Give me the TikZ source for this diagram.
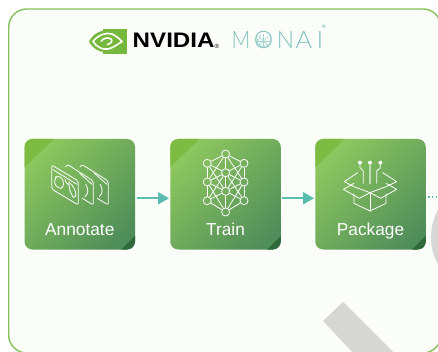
\documentclass[tikz,border=0pt]{standalone}
\usepackage{fontspec}
\setmainfont{Liberation Sans}
\newfontfamily\monaifont{Lato Light}
\usetikzlibrary{arrows.meta,calc}
\definecolor{framegreen}{HTML}{84C25A}
\definecolor{paper}{HTML}{FBFDF8}
\definecolor{greyband}{HTML}{D6D7D5}
\definecolor{flowteal}{HTML}{5BBDB0}
\definecolor{monaiteal}{HTML}{7FC0C0}
\definecolor{nvgreen}{HTML}{76B83C}
\definecolor{boxlight}{HTML}{8CC85A}
\definecolor{boxdark}{HTML}{4A8A55}
\definecolor{cornerlight}{HTML}{7CBC42}
\definecolor{cornerdark}{HTML}{2E6A3C}
\tikzset{
  stagebox/.style={minimum width=110.5pt,minimum height=110.5pt,inner sep=0pt,rounded corners=8pt,
    path picture={
      \begin{scope}[sharp corners]
        \shade[top color=boxlight,bottom color=boxdark,shading angle=45] (-62,-62) rectangle (62,62);
        \foreach \d in {-112,-109.5,...,112}{\draw[white,opacity=.07,line width=.7pt] (\d-56,-56) -- ++(112,112);}
        \fill[cornerlight] (-56,-56) -- (-25.25,-56) -- (-56,-26.25) -- cycle;
        \fill[cornerdark] (56,56) -- (40.75,56) -- (56,40.75) -- cycle;
      \end{scope}
    }},
  stagelabel/.style={text=white,font=\fontsize{17.3}{20}\selectfont,inner sep=0pt,anchor=base},
  flow/.style={draw=flowteal,line width=1.6pt,-{Triangle[length=11pt,width=12pt]}},
  flowdots/.style={draw=flowteal,line width=1.5pt,dash pattern=on 1.6pt off 2.2pt},
  icon/.style={draw=white,line width=.8pt,line join=round,line cap=round},
  netdot/.style={circle,draw=white,line width=.8pt,minimum size=8pt,inner sep=0pt},
  monailetter/.style={text=monaiteal,inner sep=0pt,font=\monaifont\fontsize{24}{26}\selectfont},
}
\begin{document}
\begin{tikzpicture}[x=1pt,y=-1pt]
\useasboundingbox (0,0) rectangle (438,352);
\clip (0,0) rectangle (438,352);
% frame
\draw[framegreen,fill=paper,line width=1.4pt,rounded corners=18pt] (8.7,9) rectangle (441,353);
% grey shapes
\fill[greyband] (343,302) -- (323,321) -- (354,354) -- (395,354) -- cycle;
\fill[greyband] (440,206) .. controls (433,218) and (431,228) .. (431,238) .. controls (431,248) and (434,258) .. (440,268) -- cycle;

% logo
\fill[nvgreen] (103,29) rectangle (127,54);
\begin{scope}
  \clip (85,25) rectangle (103,58);
  \fill[nvgreen] (89,41.5) .. controls (94,33) and (100,31) .. (105,30.5) -- (105,52) .. controls (99,52) and (93,49) .. (89,41.5) -- cycle;
\end{scope}
\draw[white,line width=1.6pt] (93,41.5) .. controls (98,35) and (106,32) .. (112,34) .. controls (116,36) and (120,39) .. (122,41.5) .. controls (118,44) and (113,48) .. (108,49) .. controls (102,50) and (97,47) .. (93,41.5) -- cycle;
\draw[white,line width=1.6pt] (101,41.5) .. controls (103,38) and (108,37) .. (111,39) .. controls (113,41) and (111,44) .. (107,44.5);
\node[anchor=base west,inner sep=0pt,font=\bfseries\fontsize{21}{24}\selectfont,xscale=1.15] (nvidia) at (132.5,48) {NVIDIA};
\node[anchor=base west,inner sep=0pt,font=\fontsize{6}{7}\selectfont] (reg) at (214.5,48.5) {®};
\node[monailetter,anchor=base,xscale=.86] (monaiM) at (241,49) {M};
\node[monailetter,anchor=base,xscale=1.02] (monaiO) at (263.5,49) {O};
\node[monailetter,anchor=base,xscale=.95] (monaiN) at (285.5,49) {N};
\node[monailetter,anchor=base,xscale=1.05] (monaiA) at (304,49) {A};
\node[monailetter,anchor=base] (monaiI) at (320,49) {I};
\foreach \a in {0,45,...,135}{\draw[monaiteal!70,line width=.5pt] ($(263.5,41)+(\a:7)$) -- ($(263.5,41)+(\a+180:7)$);}
\foreach \a in {22.5,67.5,...,157.5}{\draw[monaiteal!70,line width=.5pt] ($(263.5,41)+(\a:7)$) -- ($(263.5,41)+(\a+90:7)$);}
\node[text=monaiteal,inner sep=0pt,font=\fontsize{9}{9}\selectfont] (monaiplus) at (324,26.5) {+};

% stages
\node[stagebox] (annotate) at (79.75,194.25) {};
\node[stagebox] (train) at (225.5,194.25) {};
\node[stagebox] (package) at (370.5,194.25) {};
\node[stagelabel] (annotatetext) at (79.75,235.5) {Annotate};
\node[stagelabel] (traintext) at (225.5,235.5) {Train};
\node[stagelabel] (packagetext) at (370.5,235.5) {Package};

% connectors
\coordinate (a1) at ($(annotate.east)+(1.5,4)$);
\coordinate (t1) at ($(train.west)+(-1,4)$);
\coordinate (t2) at ($(train.east)+(1.5,4)$);
\coordinate (p1) at ($(package.west)+(-1,4)$);
\coordinate (p2) at ($(package.east)+(2,3)$);
\coordinate (offpage) at (441,197.25);
\draw[flow] (a1) -- (t1);
\draw[flow] (t2) -- (p1);
\draw[flowdots] (p2) -- (offpage);

% annotate icon
\begin{scope}[shift={(45,155)},x=.3333pt,y=-.3333pt,rounded corners=2pt]
  \draw[icon] (20,30) -- (100,78) -- (100,150) -- (20,102) -- cycle;
  \draw[icon] (24,44) -- (96,88);
  \draw[icon] (62,36) -- (67,28) -- (145,78) -- (145,150) -- (112,130);
  \draw[icon] (105,36) -- (110,28) -- (190,78) -- (190,150) -- (157,130);
  \draw[icon] (104,55) -- (141,88);
  \draw[icon] (148,55) -- (186,88);
  \draw[icon] (33,70) .. controls (40,62) and (52,68) .. (55,82) .. controls (57,95) and (48,102) .. (38,96) .. controls (30,90) and (28,78) .. (33,70) -- cycle;
  \draw[icon] (72,86) .. controls (82,88) and (94,110) .. (92,128) .. controls (84,128) and (72,105) .. (72,86) -- cycle;
  \draw[icon] (60,72) .. controls (62,82) and (66,88) .. (72,90);
  \draw[icon] (122,88) .. controls (130,100) and (132,115) .. (120,125);
  \draw[icon] (165,88) .. controls (173,100) and (175,115) .. (163,125);
\end{scope}

% train icon
\begin{scope}[shift={(225.6,183)}]
  \foreach \n/\px/\py in {nt/0/-29, nl/-18.4/-19.7, nr/18.4/-19.7, nc/0/-10.3, ml/-18.4/-1, mr/18.4/-1, mc/0/8.3, bl/-18.4/17.7, br/18.4/17.7, nb/0/29}
    \node[netdot] (\n) at (\px,\py) {};
  \foreach \u/\v in {nt/nl,nt/nr,nt/nc,nt/ml,nt/mr,nl/nc,nr/nc,nl/ml,nr/mr,nl/mc,nr/mc,nc/ml,nc/mr,nc/mc,nc/bl,nc/br,ml/mc,mr/mc,ml/bl,mr/br,mc/bl,mc/br,mc/nb,bl/nb,br/nb,ml/nb,mr/nb}
    \draw[icon] (\u) -- (\v);
\end{scope}

% package icon
\begin{scope}[shift={(280,130)},x=.3333pt,y=-.3333pt]
  \foreach \n/\px in {pina/240,pinb/270,pinc/301}
    \node[circle,fill=white,minimum size=4pt,inner sep=0pt] (\n) at (\px,98) {};
  \draw[icon] (pina) -- (240,113) -- (250,123) -- (250,160);
  \draw[icon] (pinc) -- (301,113) -- (290,123) -- (290,160);
  \draw[white,opacity=.55,line width=1.8pt] (pinb) -- (270,162);
  \draw[icon] (233,128) -- (193,155) -- (222,170);
  \draw[icon] (308,128) -- (350,155) -- (318,170);
  \draw[icon] (222,160) -- (190,178) -- (238,205) -- (270,188) -- (302,205) -- (350,178) -- (318,160);
  \draw[icon] (222,170) -- (270,188) -- (318,170);
  \draw[icon] (222,192) -- (222,220) -- (270,243) -- (318,220) -- (318,192);
  \draw[icon] (270,188) -- (270,243);
\end{scope}
\end{tikzpicture}
\end{document}
